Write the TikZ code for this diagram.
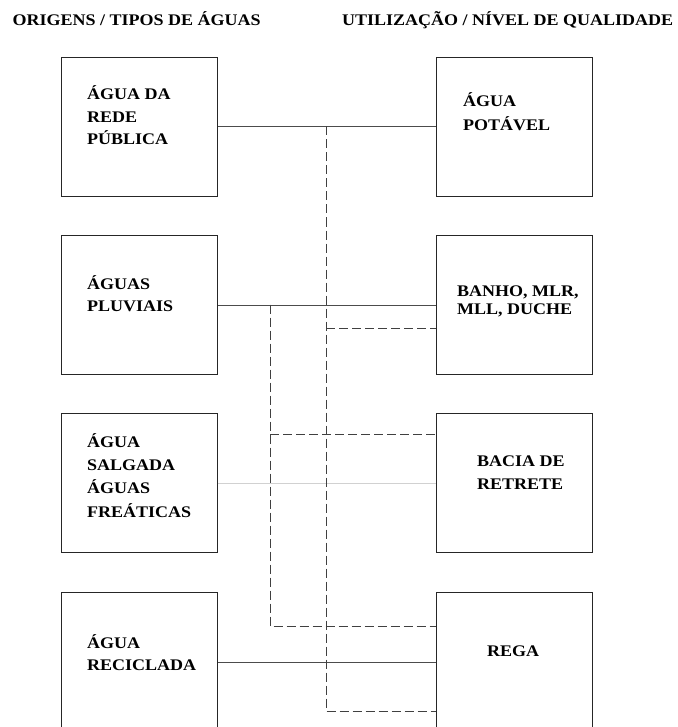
\documentclass[tikz,border=0pt]{standalone}
\usepackage{fontspec}
\setmainfont{Liberation Serif}
\usepackage{graphicx}
\newcommand\btxt[2][25]{\scalebox{1}[0.9]{\fontsize{18}{#1}\selectfont\bfseries\begin{tabular}[t]{@{}l@{}}#2\end{tabular}}}
\tikzset{
  box/.style={draw=black!85, line width=0.9pt, minimum width=156pt, minimum height=139pt, inner sep=0pt, anchor=north west},
  lbl/.style={anchor=base west, inner sep=0pt},
  solidlink/.style={draw=black!70, line width=0.9pt},
  palelink/.style={draw=black!18, line width=0.9pt},
  dashlink/.style={draw=black!75, line width=0.9pt, dash pattern=on 9pt off 4pt}
}
\begin{document}
\begin{tikzpicture}[x=1pt,y=-1pt]
\useasboundingbox (0,0) rectangle (677,727);
\begin{scope}
\clip (0,0) rectangle (677,727);
% titles
\node[lbl] (t1) at (12.5,26) {\btxt{ORIGENS / TIPOS DE ÁGUAS}};
\node[lbl] (t2) at (342,26) {\btxt{UTILIZAÇÃO / NÍVEL DE QUALIDADE}};
% boxes
\node[box] (L1) at (61,57) {};
\node[box] (L2) at (61,235) {};
\node[box] (L3) at (61,413) {};
\node[box] (L4) at (61,592) {};
\node[box] (R1) at (435.5,57) {};
\node[box] (R2) at (435.5,235) {};
\node[box] (R3) at (435.5,413) {};
\node[box] (R4) at (435.5,592) {};
% labels
\node[lbl] (l1) at (87,100) {\btxt[25]{ÁGUA DA\\REDE\\PÚBLICA}};
\node[lbl] (l2) at (87,289) {\btxt[25.5]{ÁGUAS\\PLUVIAIS}};
\node[lbl] (l3) at (87,447) {\btxt[26]{ÁGUA\\SALGADA\\ÁGUAS\\FREÁTICAS}};
\node[lbl] (l4) at (87,648) {\btxt[25]{ÁGUA\\RECICLADA}};
\node[lbl] (r1) at (463,106.5) {\btxt[26.7]{ÁGUA\\POTÁVEL}};
\node[lbl] (r2) at (457,296) {\btxt[21]{BANHO, MLR,\\MLL, DUCHE}};
\node[lbl] (r3) at (477,466.5) {\btxt[26]{BACIA DE\\RETRETE}};
\node[lbl] (r4) at (487,656) {\btxt{REGA}};
% junction coordinates
\coordinate (a1) at (326,126.5);
\coordinate (a2) at (326,328);
\coordinate (a3) at (326,711);
\coordinate (b1) at (270,304.5);
\coordinate (b2) at (270,434);
\coordinate (b3) at (270,626);
% solid links
\draw[solidlink] (L1.east) -- (R1.west);
\draw[solidlink] (L2.east) -- (R2.west);
\draw[palelink] (L3.east) -- (R3.west);
\draw[solidlink] (L4.east) -- (R4.west);
% dashed links
\draw[dashlink] (a1) -- (a3) -- (a3 -| R4.west);
\draw[dashlink] (a2) -- (a2 -| R2.west);
\draw[dashlink] (b1) -- (b3) -- (b3 -| R4.west);
\draw[dashlink] (b2) -- (b2 -| R3.west);
\end{scope}
\end{tikzpicture}
\end{document}
